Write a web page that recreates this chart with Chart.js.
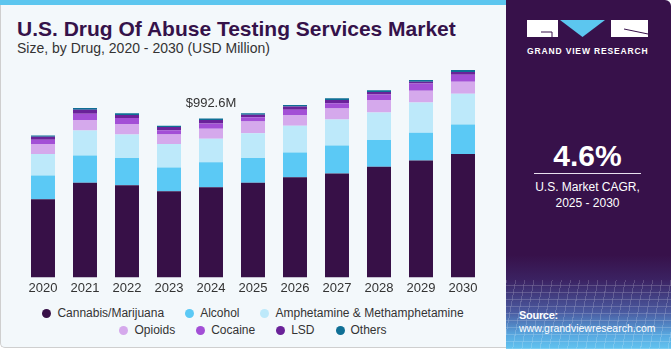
<!DOCTYPE html>
<html>
<head>
<meta charset="utf-8">
<script src="https://cdn.jsdelivr.net/npm/chart.js@4.4.0/dist/chart.umd.min.js"></script>
<style>
  html, body { margin: 0; padding: 0; }
  body { width: 671px; height: 350px; position: relative; overflow: hidden; background: #fff;
    font-family: "Liberation Sans", Arial, sans-serif; }
  #card { position: absolute; left: 0; top: 0; width: 670px; height: 348px; background: #f3f8fb;
    border-left: 1px solid #cfcfcf; border-bottom: 1px solid #cfcfcf; border-bottom-left-radius: 5px; box-sizing: border-box; }
  #strip { position: absolute; left: 0; top: 0; width: 506px; height: 5px; background: #5cc6ef; }
  #title { position: absolute; left: 17px; top: 18px; font-size: 21px; line-height: 21px; font-weight: bold; color: #35124a; white-space: nowrap; }
  #subtitle { position: absolute; left: 17px; top: 41px; font-size: 14px; line-height: 14px; color: #333; white-space: nowrap; }
  #chartBox { position: absolute; left: 0; top: 1px; width: 505px; height: 298px; }
  #legend { position: absolute; left: 33px; top: 306px; width: 440px; display: flex; flex-wrap: wrap; justify-content: center;
    column-gap: 21px; row-gap: 3px; font-size: 12px; line-height: 14px; color: #333; }
  #legend .item { display: flex; align-items: center; white-space: nowrap; }
  #legend .dot { width: 9px; height: 9px; border-radius: 50%; margin-right: 6px; }
  #side { position: absolute; left: 506px; top: 0; width: 165px; height: 349px; border-top-right-radius: 6px; overflow: hidden;
    background: linear-gradient(to bottom, #37114a 0px, #37114a 255px, #3b2262 280px, #4a5aa0 312px, #58a8e0 335px, #62c4f0 349px); }
  #mesh { position: absolute; left: 0; top: 280px; width: 165px; height: 69px; opacity: 0.35;
    background:
      repeating-linear-gradient(100deg, rgba(255,255,255,0.5) 0px, rgba(255,255,255,0.5) 1px, transparent 1px, transparent 9px),
      repeating-linear-gradient(0deg, rgba(255,255,255,0.5) 0px, rgba(255,255,255,0.5) 1px, transparent 1px, transparent 7px); }
  #logo { position: absolute; left: 21px; top: 20px; }
  #brand { position: absolute; left: 21px; top: 47px; width: 121px; font-size: 8.5px; line-height: 9px; font-weight: bold;
    letter-spacing: 0.85px; color: #fff; white-space: nowrap; }
  #cagr { position: absolute; left: 0; top: 141px; width: 163px; text-align: center; font-size: 30px; line-height: 30px; font-weight: bold; color: #fff; }
  #rule { position: absolute; left: 28px; top: 173px; width: 107px; height: 1px; background: #e8e0ee; }
  #cagrText { position: absolute; left: 0; top: 179px; width: 163px; text-align: center; font-size: 12px; line-height: 16px; color: #fff; }
  #source { position: absolute; left: 13px; top: 309px; font-size: 10.5px; line-height: 13px; color: #fff; }
  #source b { font-size: 11px; letter-spacing: -0.3px; }
</style>
</head>
<body>
<div id="card"></div>
<div id="strip"></div>
<div id="title">U.S. Drug Of Abuse Testing Services Market</div>
<div id="subtitle">Size, by Drug, 2020 - 2030 (USD Million)</div>
<div id="chartBox"><canvas id="chart" width="505" height="298"></canvas></div>
<div id="legend"></div>
<div id="side">
  <div id="mesh"></div>
  <svg id="logo" width="121" height="18" viewBox="0 0 121 18">
    <rect x="0" y="0" width="31" height="17" fill="#fff"/>
    <path d="M14 12 L25 12 L25 17" stroke="#37114a" stroke-width="1" fill="none"/>
    <polygon points="33,0 78,0 55.5,17" fill="#5cc6ef"/>
    <rect x="84" y="0" width="37" height="17" fill="#fff"/>
    <path d="M97 9 L121 14" stroke="#37114a" stroke-width="1" fill="none"/>
  </svg>
  <div id="brand">GRAND VIEW RESEARCH</div>
  <div id="cagr">4.6%</div>
  <div id="rule"></div>
  <div id="cagrText">U.S. Market CAGR,<br>2025 - 2030</div>
  <div id="source"><b>Source:</b><br>www.grandviewresearch.com</div>
</div>
<script>
const years = ["2020", "2021", "2022", "2023", "2024", "2025", "2026", "2027", "2028", "2029", "2030"];

const cannabis = [488, 591, 575, 538, 564, 591, 626, 649, 692, 730, 771];
const alcohol = [149, 170, 171, 149, 155, 155, 155, 175, 167, 174, 184];
const amphetamine = [134, 157, 147, 146, 147, 155, 166, 163, 171, 188, 192];
const opioids = [62, 66, 66, 60, 62, 73, 68, 68, 79, 74, 76];
const cocaine = [27, 39, 37, 27, 33, 27, 33, 33, 33, 45, 43];
const lsd = [19, 25, 19, 19, 23, 15, 20, 20, 17, 12, 17];
const others = [8, 11, 10, 9, 8.6, 10, 9, 11, 11, 11, 12];

const seriesNames = ["Cannabis/Marijuana", "Alcohol", "Amphetamine & Methamphetamine", "Opioids", "Cocaine", "LSD", "Others"];
const seriesColors = ["#371047", "#5bc9f5", "#bde9fa", "#d5a9ec", "#a34fd6", "#6a2299", "#0f6f95"];
const seriesData = [cannabis, alcohol, amphetamine, opioids, cocaine, lsd, others];

const labelYear = "2024";

const datasets = seriesNames.map((name, i) => ({
  label: name,
  data: seriesData[i],
  backgroundColor: seriesColors[i],
  borderWidth: 0,
  categoryPercentage: 0.8,
  barPercentage: 0.714,
}));

// total value shown above one bar
const totalLabel = {
  id: "totalLabel",
  afterDatasetsDraw(chart) {
    const idx = years.indexOf(labelYear);
    const total = seriesData.reduce((s, arr) => s + arr[idx], 0);
    const x = chart.scales.x.getPixelForValue(idx);
    const y = chart.scales.y.getPixelForValue(total);
    const ctx = chart.ctx;
    ctx.save();
    ctx.font = '13px "Liberation Sans", Arial, sans-serif';
    ctx.fillStyle = "#333";
    ctx.textAlign = "center";
    ctx.textBaseline = "middle";
    ctx.fillText("$" + total.toFixed(1) + "M", x, y - 15);
    ctx.restore();
  },
};

new Chart(document.getElementById("chart"), {
  type: "bar",
  data: { labels: years, datasets },
  options: {
    responsive: false,
    animation: false,
    layout: { padding: { left: 22, right: 21, top: 60, bottom: 0 } },
    plugins: { legend: { display: false }, tooltip: { enabled: false } },
    scales: {
      x: {
        stacked: true,
        grid: { display: false, drawTicks: false },
        border: { display: false },
        ticks: { padding: 3, color: "#333", font: { family: '"Liberation Sans", Arial, sans-serif', size: 13 } },
      },
      y: { stacked: true, display: false, min: 0, max: 1352 },
    },
  },
  plugins: [totalLabel],
});

const legend = document.getElementById("legend");
seriesNames.forEach((name, i) => {
  const item = document.createElement("div");
  item.className = "item";
  item.innerHTML = '<span class="dot" style="background:' + seriesColors[i] + '"></span>' + name;
  legend.appendChild(item);
});
</script>
</body>
</html>
